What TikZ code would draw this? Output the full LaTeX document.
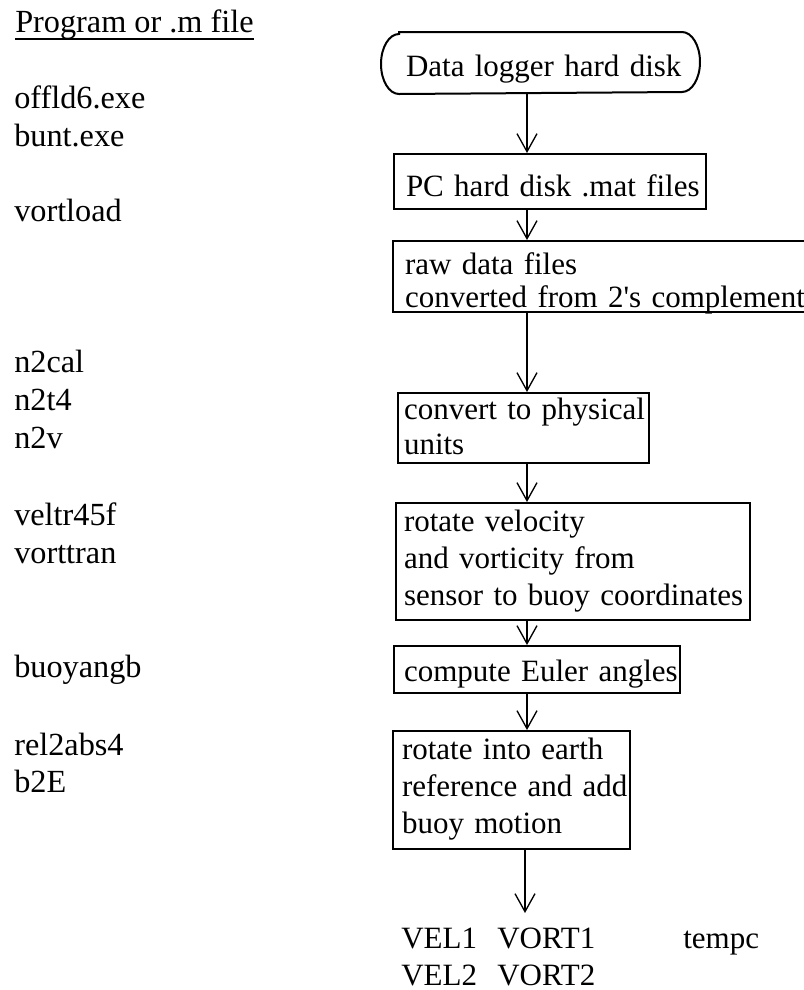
\documentclass[tikz,border=0pt]{standalone}
\usepackage{fontspec}
\setmainfont{Liberation Serif}
\usetikzlibrary{arrows.meta}
% keep a box line from being broken
\newcommand\keepline[1]{\mbox{#1}}
\begin{document}
\begin{tikzpicture}[x=0.75pt,y=-0.75pt,
  txt/.style={font=\fontsize{23.25}{28.1}\selectfont, inner sep=0pt},
  lab/.style={txt, font=\fontsize{24.2}{28.1}\selectfont, anchor=base west},
  stepbox/.style={txt, draw, line width=1.5pt, anchor=north west, align=left, inner ysep=0pt},
  flow/.style={line width=1pt, -{Straight Barb[length=13.5pt,width=15pt]}}]
\useasboundingbox (0,0) rectangle (804,990);
\fill[white] (0,0) rectangle (804,990);
\clip (0,0) rectangle (804,990);

% column of program / .m file names
\node[lab] (title) at (15,32) {Program or .m file};
\draw[line width=1.1pt] ([yshift=-5.25pt]title.base west) -- ([yshift=-5.25pt]title.base east);
\node[lab] (p1) at (14,108) {offld6.exe};
\node[lab] (p2) at (14,146) {bunt.exe};
\node[lab] (p3) at (14,221) {vortload};
\node[lab] (p4) at (14,372) {n2cal};
\node[lab] (p5) at (14,410) {n2t4};
\node[lab] (p6) at (14,448) {n2v};
\node[lab] (p7) at (14,525) {veltr45f};
\node[lab] (p8) at (14,563) {vorttran};
\node[lab] (p9) at (14,677) {buoyangb};
\node[lab] (p10) at (14,755) {rel2abs4};
\node[lab] (p11) at (14,792) {b2E};

% processing chain
\node[stepbox, draw=none, inner xsep=18pt, text width=201.75pt, text height=32.25pt, text depth=12.75pt] (ovl) at (381,32) {\keepline{Data logger hard disk}};
\draw[line width=1.5pt] ([xshift=13.5pt]ovl.north west) -- ([xshift=-13.5pt]ovl.north east)
  arc[start angle=90, end angle=-90, x radius=13.5pt, y radius=22.5pt]
  -- ([xshift=13.5pt]ovl.south west)
  arc[start angle=270, end angle=90, x radius=13.5pt, y radius=22.5pt] -- cycle;

\node[stepbox, inner xsep=9pt, text width=216pt, text height=31.5pt, text depth=9.75pt] (pc) at (393,153)
  {\keepline{PC hard disk .mat files}};
\node[stepbox, font=\fontsize{23.25}{24.75}\selectfont, inner xsep=9pt, text width=303pt, text height=24.75pt, text depth=28.5pt] (raw) at (392,240)
  {\keepline{raw data files}\\\keepline{converted from 2\textquotesingle s complement}};
\node[stepbox, font=\fontsize{23.25}{26.25}\selectfont, inner xsep=4.5pt, text width=179.25pt, text height=19.5pt, text depth=33pt] (cvt) at (397,392)
  {\keepline{convert to physical}\\units};
\node[stepbox, inner xsep=6pt, text width=253.5pt, text height=21pt, text depth=66.75pt] (rot) at (395,502)
  {rotate velocity\\and vorticity from\\\keepline{sensor to buoy coordinates}};
\node[stepbox, inner xsep=7.5pt, text width=199.5pt, text height=26.25pt, text depth=9pt] (eul) at (393,645)
  {\keepline{compute Euler angles}};
\node[stepbox, inner xsep=6.75pt, text width=164.25pt, text height=21pt, text depth=67.5pt] (earth) at (392,730)
  {rotate into earth\\\keepline{reference and add}\\buoy motion};

% outputs
\node[lab, txt] (vel1) at (401,948) {VEL1};
\node[lab, txt] (vort1) at (497,948) {VORT1};
\node[lab, txt] (tempc) at (683,948) {tempc};
\node[lab, txt] (vel2) at (401,985) {VEL2};
\node[lab, txt] (vort2) at (497,985) {VORT2};

% connectors
\coordinate (ax) at (527,0);
\coordinate (tip) at (525,913);
\draw[flow] (ovl.south -| ax) -- (pc.north -| ax);
\draw[flow] (pc.south -| ax) -- (raw.north -| ax);
\draw[flow] (raw.south -| ax) -- (cvt.north -| ax);
\draw[flow] (cvt.south -| ax) -- (rot.north -| ax);
\draw[flow] (rot.south -| ax) -- (eul.north -| ax);
\draw[flow] (eul.south -| ax) -- (earth.north -| ax);
\draw[flow] (earth.south -| tip) -- (tip);
\end{tikzpicture}
\end{document}
